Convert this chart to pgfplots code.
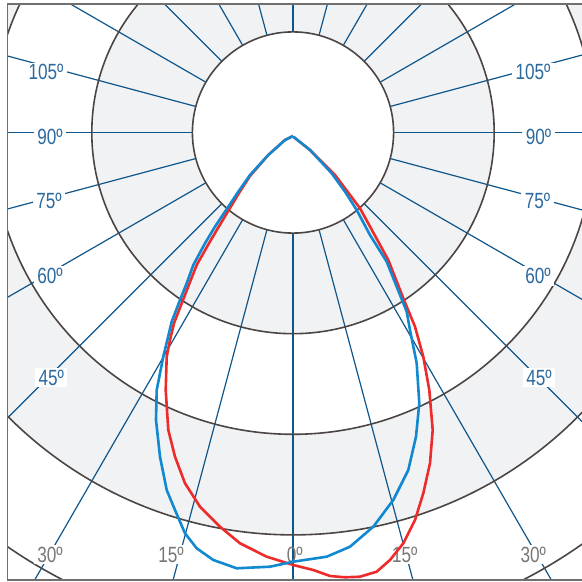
\documentclass[border=0pt]{standalone}
\usepackage{fontspec}
\usepackage{pgfplots}
\pgfplotsset{compat=1.18}
\newfontfamily\labfont{Liberation Sans}[FakeStretch=0.78]
\definecolor{ringgray}{HTML}{F1F2F4}
\definecolor{circ}{HTML}{4B4645}
\definecolor{spoke}{HTML}{0F568B}
\definecolor{labblue}{HTML}{2C6A9F}
\definecolor{labgray}{HTML}{777777}
\definecolor{frame}{HTML}{707070}
\definecolor{cblue}{HTML}{1189D0}
\definecolor{cred}{HTML}{EE2B2B}

% curves in pixel units, origin at the pole, y up
\pgfplotstableread{
x y
0 -3.5
-8 -7.5
-24.7 -22.5
-43 -42.5
-54.7 -59.2
-64.7 -74.2
-78 -94.2
-88 -110.8
-99.7 -132.5
-106.3 -150.8
-113 -167.5
-121.3 -189.2
-129.7 -224.2
-136.3 -257.5
-137 -287.5
-133 -324.2
-126.3 -357.5
-118 -377.5
-108 -400.8
-96.3 -415.8
-79.7 -427.5
-56.3 -435.8
-23 -434.2
0.3 -429.2
33.7 -424.2
57 -414.2
80.3 -394.2
100.3 -367.5
115.3 -337.5
123 -304.2
126.3 -270.8
123.7 -230.8
117 -197.5
113.7 -179.2
103.7 -154.2
93.7 -129.2
77 -102.5
63.7 -77.5
52 -59.2
38.7 -40.8
17 -17.5
0.3 -4.2
}\blueseries

\pgfplotstableread{
x y
0 -3.5
-8 -7.5
-24.7 -22.5
-43 -43.5
-54 -60.5
-63 -75.5
-75 -95.5
-85 -112.5
-96.3 -132.5
-103.5 -150.8
-110 -167.5
-119 -190.8
-123 -207.5
-126.3 -224.2
-127.3 -257.5
-124.7 -297.5
-118 -324.2
-108 -350.8
-93 -374.2
-73 -394.2
-53 -410.8
-26.3 -424.2
0.3 -432.5
20.3 -437.5
37 -443.5
52 -444.8
67 -444.2
83.7 -439.2
97 -427.5
110.3 -410.8
122 -387.5
130.3 -360.8
137 -330.8
139.7 -297.5
136.3 -257.5
130.3 -224.2
122 -194.2
110.3 -165.8
95.3 -127.5
67 -75.8
42 -42.5
17 -17.5
0.3 -4.2
}\redseries

\begin{document}
\begin{tikzpicture}
\begin{axis}[
    at={(0,0)}, anchor=south west,
    x=1bp, y=1bp, scale only axis,
    xmin=-293, xmax=289,
    ymin=-449.5, ymax=132.5,
    hide axis, clip=true,
  ]
  \begin{scope}
    \clip (axis cs:-285.5,-447.5) rectangle (axis cs:300,128.5);
    \fill[ringgray, even odd rule]
      (axis cs:0,0) circle[radius=201.2bp]
      (axis cs:0,0) circle[radius=100.6bp];
    \fill[ringgray, even odd rule]
      (axis cs:0,0) circle[radius=402.4bp]
      (axis cs:0,0) circle[radius=301.8bp];
    \pgfplotsinvokeforeach{-255,-240,-225,-210,-195,-180,-165,-150,-135,-120,-105,-90,-75,-60,-45,-30,-15,0,15,30,45,60,75,90}{
      \draw[spoke, line width=1.2bp] (axis cs:0,0) ++(#1:100.6bp) -- ++(#1:700bp);
    }
    \pgfplotsinvokeforeach{100.6,201.2,301.8,402.4,503}{
      \draw[circ, line width=1.6bp] (axis cs:0,0) circle[radius=#1bp];
    }
  \end{scope}
  \draw[frame, line width=1.4bp]
    (axis cs:300,128.5) -- (axis cs:-285.5,128.5)
    -- (axis cs:-285.5,-447.5) -- (axis cs:300,-447.5);

  \tikzset{lab/.style={anchor=base, fill=white, inner xsep=3.5bp, inner ysep=2bp,
      font=\labfont\fontsize{22bp}{22bp}\selectfont}}
  \node[lab, text=labblue] at (axis cs:-247,52.5) {105º};
  \node[lab, text=labblue] at (axis cs:-243,-12.5) {90º};
  \node[lab, text=labblue] at (axis cs:-244,-75.8) {75º};
  \node[lab, text=labblue] at (axis cs:-243,-150.8) {60º};
  \node[lab, text=labblue] at (axis cs:-241.7,-252.5) {45º};
  \node[lab, text=labblue] at (axis cs:240,52.5) {105º};
  \node[lab, text=labblue] at (axis cs:245.5,-12.5) {90º};
  \node[lab, text=labblue] at (axis cs:244.5,-75.8) {75º};
  \node[lab, text=labblue] at (axis cs:245,-150.8) {60º};
  \node[lab, text=labblue] at (axis cs:246,-252.5) {45º};
  \node[lab, text=labgray] at (axis cs:-243,-429.5) {30º};
  \node[lab, text=labgray] at (axis cs:-122,-429.5) {15º};
  \node[lab, text=labgray, fill=none] at (axis cs:1.7,-429.5) {0º};
  \node[lab, text=labgray] at (axis cs:111.7,-429.5) {15º};
  \node[lab, text=labgray] at (axis cs:240.3,-429.5) {30º};

  \addplot[cred, line width=2.6bp, line join=round] table[x=x, y=y] {\redseries};
  \addplot[cblue, line width=2.6bp, line join=round] table[x=x, y=y] {\blueseries};
\end{axis}
\pgfresetboundingbox
\path[use as bounding box] (0,0) rectangle (582bp,582bp);
\end{tikzpicture}
\end{document}
